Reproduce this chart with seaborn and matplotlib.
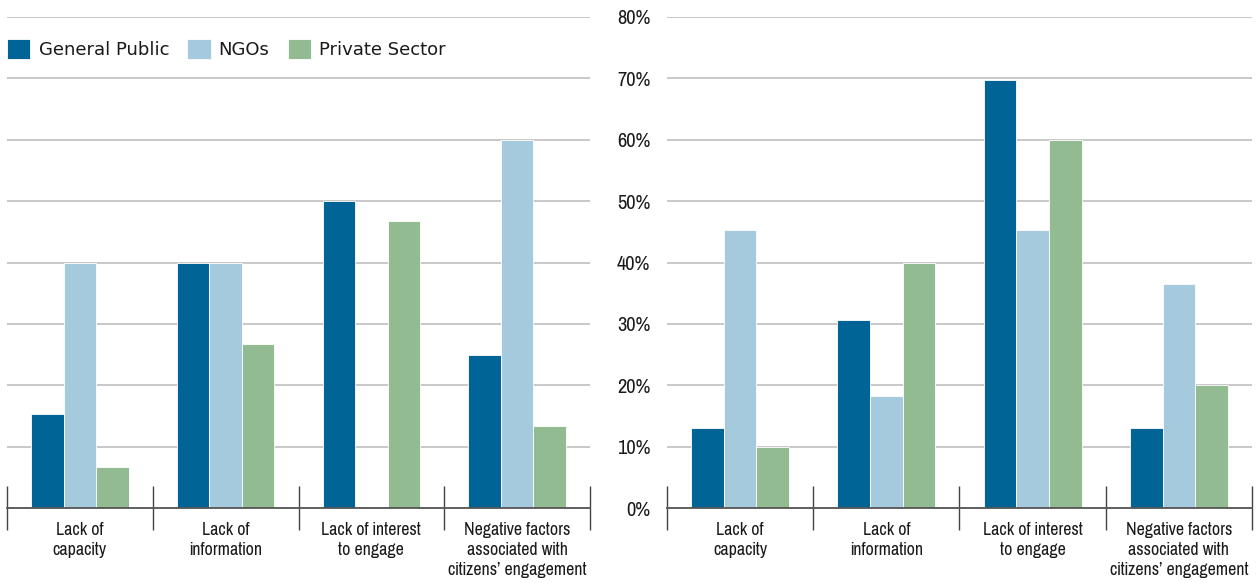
import matplotlib
matplotlib.use('Agg')
import matplotlib.pyplot as plt
from matplotlib import font_manager
from matplotlib.ticker import FixedLocator, PercentFormatter
import pandas as pd
import seaborn as sns

categories = ['Lack of\ncapacity', 'Lack of\ninformation', 'Lack of interest\nto engage',
              'Negative factors\nassociated with\ncitizens\u2019 engagement']
groups = ['General Public', 'NGOs', 'Private Sector']
colors = ['#006497', '#a5cade', '#92bb92']

# left panel
left_public = [15.3, 40.0, 50.0, 25.0]
left_ngos = [40.0, 40.0, 0.0, 60.0]
left_private = [6.7, 26.7, 46.7, 13.3]

# right panel
right_public = [13.0, 30.6, 69.7, 13.0]
right_ngos = [45.3, 18.2, 45.3, 36.5]
right_private = [10.0, 40.0, 60.0, 20.0]

y_ticks = [0, 10, 20, 30, 40, 50, 60, 70, 80]


def make_df(public, ngos, private):
    rows = []
    for g, vals in zip(groups, [public, ngos, private]):
        for c, v in zip(categories, vals):
            rows.append({'category': c, 'group': g, 'value': v})
    return pd.DataFrame(rows)


def narrow_font():
    # look for a condensed / narrow regular face among the installed fonts
    best = None
    for f in font_manager.fontManager.ttflist:
        if f.style != 'normal' or f.weight not in (400, 'normal', 'regular'):
            continue
        if 'Narrow' in f.name or 'Condensed' in f.name or \
                f.stretch in ('condensed', 'semi-condensed', 'extra-condensed', 'ultra-condensed'):
            if best is None or 'Narrow' in f.name:
                best = f
    if best is None:
        return None
    return best.fname


sns.set_theme(style='white')
plt.rcParams['font.family'] = ['DejaVu Sans']
text_color = '#1a1a1a'

nf = narrow_font()
if nf:
    tick_font = font_manager.FontProperties(fname=nf, size=14)
    y_font = font_manager.FontProperties(fname=nf, size=16)
else:
    tick_font = font_manager.FontProperties(family='DejaVu Sans', size=10.5)
    y_font = font_manager.FontProperties(family='DejaVu Sans', size=12.5)

fig = plt.figure(figsize=(12.58, 5.83), dpi=100)
ax1 = fig.add_axes([7 / 1258, 1 - 508 / 583, 583 / 1258, 491 / 583])
ax2 = fig.add_axes([667 / 1258, 1 - 508 / 583, 585 / 1258, 491 / 583])

for ax, data in [(ax1, make_df(left_public, left_ngos, left_private)),
                 (ax2, make_df(right_public, right_ngos, right_private))]:
    sns.barplot(data=data, x='category', y='value', hue='group', palette=colors,
                saturation=1, width=0.67, gap=0, edgecolor='white', linewidth=0.6,
                ax=ax, legend=(ax is ax1))
    ax.set_xlim(-0.5, 3.5)
    ax.set_ylim(0, 80)
    ax.yaxis.set_major_locator(FixedLocator(y_ticks))
    ax.yaxis.set_major_formatter(PercentFormatter(decimals=0))
    ax.yaxis.grid(True, color='#c4c4c4', linewidth=1.3)
    ax.set_axisbelow(True)
    for s in ['left', 'right', 'top']:
        ax.spines[s].set_visible(False)
    ax.spines['bottom'].set_color('#555555')
    ax.spines['bottom'].set_linewidth(1.3)
    ax.set_xlabel('')
    ax.set_ylabel('')
    ax.xaxis.set_minor_locator(FixedLocator([-0.5, 0.5, 1.5, 2.5, 3.5]))
    ax.tick_params(axis='x', which='minor', direction='inout', length=31,
                   width=1.0, color='#444444', bottom=True)
    ax.tick_params(axis='x', which='major', length=0, pad=10, labelcolor=text_color)
    for lab in ax.get_xticklabels():
        lab.set_fontproperties(tick_font)
        lab.set_linespacing(1.3)
        lab.set_verticalalignment('top')
    ax.tick_params(axis='y', length=0, pad=12, labelcolor=text_color)
    for lab in ax.get_yticklabels():
        lab.set_fontproperties(y_font)

ax1.tick_params(axis='y', labelleft=False)

handles, labels = ax1.get_legend_handles_labels()
ax1.legend(handles, labels, loc='center left', bbox_to_anchor=(0.0, 0.935),
           ncol=3, frameon=False, fontsize=13, handlelength=1.3,
           handleheight=1.3, handletextpad=0.45, columnspacing=1.0,
           borderaxespad=0, borderpad=0, labelcolor=text_color)

fig.savefig('out.png', dpi=100)
